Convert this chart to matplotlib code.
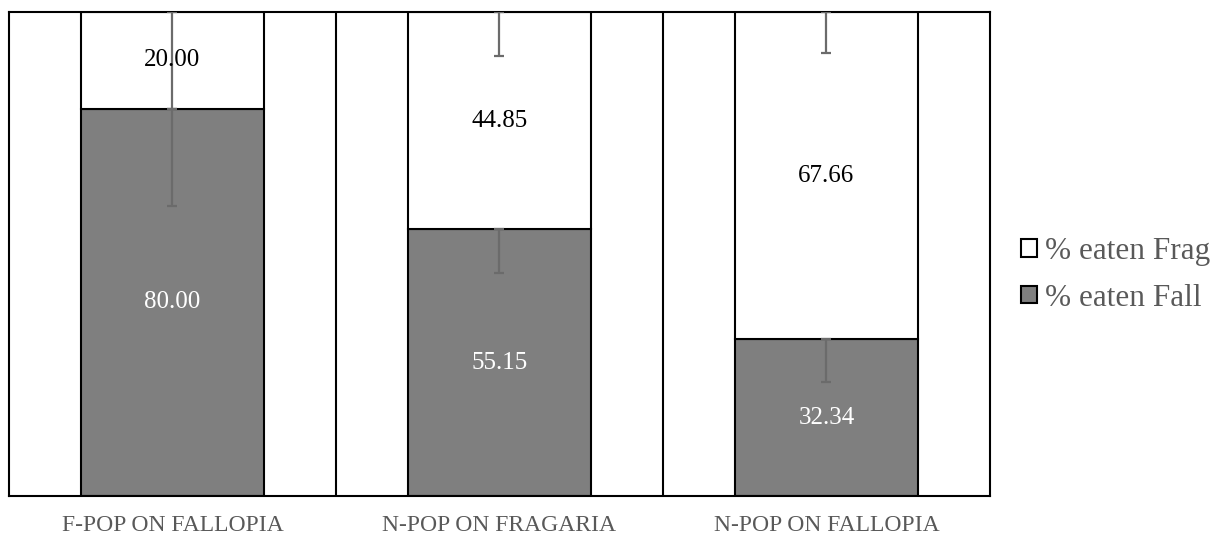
import numpy as np
import matplotlib
matplotlib.use("Agg")
import matplotlib.pyplot as plt
from matplotlib.patches import Patch

# data
categories = ["F-POP ON FALLOPIA", "N-POP ON FRAGARIA", "N-POP ON FALLOPIA"]
eaten_fall = [80.00, 55.15, 32.34]
eaten_frag = [20.00, 44.85, 67.66]
err_fall = [20.0, 9.1, 8.7]
err_frag = [20.0, 9.1, 8.5]

plt.rcParams["font.family"] = ["Liberation Serif", "DejaVu Serif"]

fig = plt.figure(figsize=(12.27, 5.36), dpi=100)
ax = fig.add_axes([0.0073, 0.0746, 0.7995, 0.903])

x = np.arange(len(categories))
w = 0.56
fall_col = "#7f7f7f"
err_col = "#6b6b6b"

ax.bar(x, eaten_fall, w, color=fall_col, edgecolor="black", linewidth=1.5, zorder=2)
ax.bar(x, eaten_frag, w, bottom=eaten_fall, color="white", edgecolor="black",
       linewidth=1.5, zorder=2)

# error bars (minus side only)
tops = np.array(eaten_fall) + np.array(eaten_frag)
ax.errorbar(x, eaten_fall, yerr=[err_fall, [0] * 3], fmt="none", ecolor=err_col,
            elinewidth=1.6, capsize=3.6, capthick=1.6, zorder=3)
ax.errorbar(x, tops, yerr=[err_frag, [0] * 3], fmt="none", ecolor=err_col,
            elinewidth=1.6, capsize=3.6, capthick=1.6, zorder=3)

# data labels
for i in range(len(categories)):
    ax.text(x[i], eaten_fall[i] / 2, f"{eaten_fall[i]:.2f}", ha="center", va="center",
            color="white", fontsize=18, zorder=4)
    ax.text(x[i], eaten_fall[i] + eaten_frag[i] / 2, f"{eaten_frag[i]:.2f}",
            ha="center", va="center", color="black", fontsize=18, zorder=4)

# separators between categories
for sx in [0.5, 1.5]:
    ax.axvline(sx, color="black", linewidth=1.5, zorder=1)

ax.set_xlim(-0.5, 2.5)
ax.set_ylim(0, 100)
ax.set_yticks([])
ax.set_xticks(x)
ax.set_xticklabels(categories, fontsize=17, color="#595959")
ax.tick_params(axis="x", length=0, pad=14)
for s in ax.spines.values():
    s.set_linewidth(1.5)
    s.set_color("black")

handles = [Patch(facecolor="white", edgecolor="black", linewidth=1.5, label="% eaten Frag"),
           Patch(facecolor=fall_col, edgecolor="black", linewidth=1.5, label="% eaten Fall")]
fig.legend(handles=handles, loc="center left", bbox_to_anchor=(0.822, 0.487),
           borderaxespad=0, frameon=False, fontsize=22.5, labelcolor="#595959",
           handlelength=0.5, handleheight=0.5, handletextpad=0.25, labelspacing=0.55)

fig.savefig("out.png", dpi=100)
